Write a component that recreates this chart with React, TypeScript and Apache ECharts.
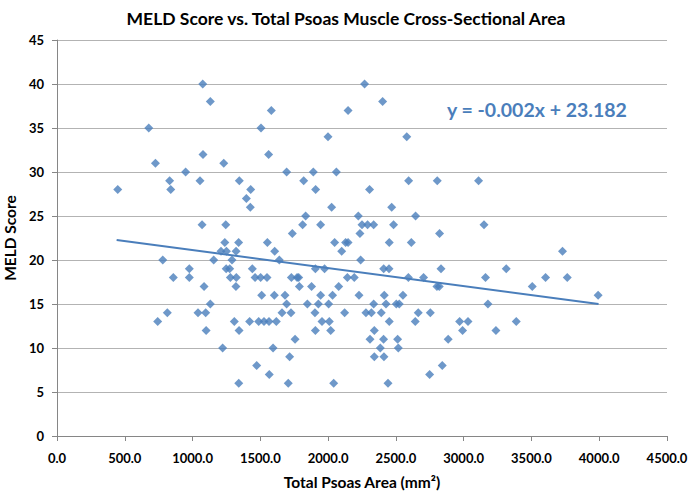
import React, { useEffect, useRef } from "react";
import * as echarts from "echarts";

const meldScores = [40, 38, 37, 35, 34, 32, 31, 30, 29, 28, 27, 26, 25, 24, 23, 22, 21, 20, 19, 18, 17, 16, 15, 14, 13, 12, 11, 10, 9, 8, 7, 6];
const psoasAreasByScore = [
  [1075, 2269],
  [1131, 2402],
  [1581, 2147],
  [677, 1505],
  [1999, 2580],
  [1077, 1561],
  [726, 1230],
  [949, 1694, 1891, 2061],
  [831, 1055, 1345, 1820, 2594, 2805, 3110],
  [448, 839, 1429, 1908, 2306],
  [1397],
  [1426, 2026, 2469],
  [1834, 2223, 2645],
  [1070, 1245, 1812, 1945, 2250, 2291, 2336, 2483, 3150],
  [1736, 2235, 2822],
  [1238, 1340, 1552, 2048, 2129, 2147, 2451, 2614],
  [1210, 1250, 1321, 1606, 2100, 3729],
  [780, 1156, 1291, 1640, 2240],
  [976, 1248, 1274, 1441, 1906, 1974, 2410, 2449, 2833, 3314],
  [858, 976, 1279, 1323, 1461, 1502, 1549, 1729, 1771, 1783, 2142, 2193, 2592, 2704, 3161, 3604, 3764],
  [1085, 1320, 1788, 1878, 2078, 2803, 2820, 3506],
  [1510, 1603, 1682, 1945, 2033, 2228, 2414, 2552, 3992],
  [1131, 1694, 1847, 1928, 2004, 2336, 2427, 2503, 2525, 3179],
  [814, 1040, 1097, 1660, 1726, 1903, 2122, 2279, 2319, 2392, 2665, 2754],
  [743, 1308, 1421, 1488, 1527, 1564, 1618, 1955, 2009, 2451, 2643, 2970, 3032, 3388],
  [1100, 1343, 1906, 2019, 2341, 2992, 3238],
  [1756, 2309, 2409, 2513, 2886],
  [1222, 1594, 2385, 2518],
  [1716, 2341, 2412],
  [1473, 2842],
  [1566, 2749],
  [1341, 1706, 2041, 2442],
];
const trendLinePoints = [
  [440, 22.28],
  [3995, 14.99],
];
const trendLabel = "y = -0.002x + 23.182";

const FONT = "Lato, 'Open Sans', sans-serif";
const BLUE = "#4a7ebb";

export default function App() {
  const ref = useRef<HTMLDivElement>(null);
  useEffect(() => {
    if (!ref.current) return;
    const chart = echarts.init(ref.current, undefined, { renderer: "svg" });
    const scatterData: number[][] = [];
    meldScores.forEach((s, i) => {
      psoasAreasByScore[i].forEach((a) => scatterData.push([a, s]));
    });
    chart.setOption({
      animation: false,
      title: {
        text: "MELD Score vs. Total Psoas Muscle Cross-Sectional Area",
        left: "center",
        top: 4,
        textStyle: { fontFamily: FONT, fontWeight: "bold", fontSize: 17.5, color: "#000" },
      },
      grid: { left: 57, right: 25, top: 40, bottom: 65, outerBoundsMode: "none", containLabel: false },
      xAxis: {
        type: "value",
        min: 0,
        max: 4500,
        interval: 500,
        name: "Total Psoas Area (mm²)",
        nameLocation: "middle",
        nameGap: 38,
        nameTextStyle: { fontFamily: FONT, fontWeight: "bold", fontSize: 15.5, color: "#000" },
        axisLine: { show: true, lineStyle: { color: "#868686" } },
        axisTick: { show: true, length: 5, lineStyle: { color: "#868686" } },
        axisLabel: {
          formatter: (v: number) => v.toFixed(1),
          fontFamily: FONT,
          fontWeight: "bold",
          fontSize: 13,
          color: "#000",
          margin: 15,
        },
        splitLine: { show: false },
      },
      yAxis: {
        type: "value",
        min: 0,
        max: 45,
        interval: 5,
        name: "MELD Score",
        nameLocation: "middle",
        nameGap: 34,
        nameTextStyle: { fontFamily: FONT, fontWeight: "bold", fontSize: 15.5, color: "#000" },
        axisLine: { show: true, lineStyle: { color: "#868686" } },
        axisTick: { show: true, length: 5, lineStyle: { color: "#868686" } },
        axisLabel: { fontFamily: FONT, fontWeight: "bold", fontSize: 13, color: "#000", margin: 13 },
        splitLine: { show: true, lineStyle: { color: "#b3b3b3", width: 1 } },
      },
      series: [
        {
          type: "scatter",
          symbol: "diamond",
          symbolSize: 9,
          itemStyle: { color: BLUE },
          data: scatterData,
          z: 3,
        },
        {
          type: "line",
          data: trendLinePoints,
          symbol: "none",
          lineStyle: { color: BLUE, width: 2 },
          z: 2,
        },
      ],
      graphic: [
        {
          type: "text",
          left: 447,
          top: 99,
          style: { text: trendLabel, fontFamily: FONT, fontWeight: "bold", fontSize: 19.5, fill: BLUE },
        },
      ],
    });
    return () => chart.dispose();
  }, []);
  return <div ref={ref} style={{ width: 692, height: 501, position: "absolute", left: 0, top: 0 }} />;
}
